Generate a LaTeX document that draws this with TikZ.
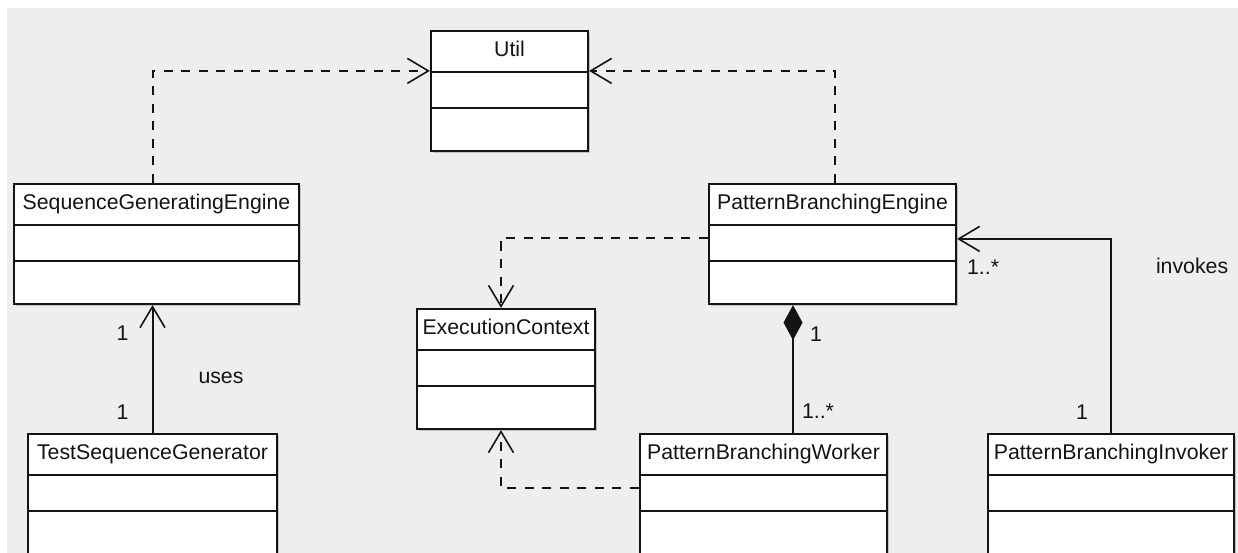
\documentclass[tikz,border=0pt]{standalone}
\usepackage{fontspec}
\setmainfont{Liberation Sans}
\usetikzlibrary{arrows.meta,shadows}

\definecolor{canvas}{RGB}{238,238,238}
\definecolor{ink}{RGB}{20,20,20}
\newcommand\umlfont{\fontsize{21.3}{25}\selectfont}

\tikzset{
  classbox/.style={draw=ink, line width=2.2pt, fill=white, inner sep=0pt,
    drop shadow={shadow xshift=2pt, shadow yshift=-2pt, fill=black, opacity=.18}},
  classname/.style={font=\umlfont, text=ink, anchor=base, inner sep=0pt},
  mult/.style={font=\umlfont, text=ink, inner sep=0pt},
  dep/.style={draw=ink, line width=2pt, dash pattern=on 9pt off 8.5pt,
    -{Straight Barb[length=21pt,width=25pt,line width=1.6pt]}},
  assoc/.style={draw=ink, line width=2pt,
    -{Straight Barb[length=21pt,width=25pt,line width=1.6pt]}},
  compose/.style={draw=ink, line width=2pt, {Diamond[length=35pt,width=19pt]}-},
}

\begin{document}
\begin{tikzpicture}[x=1pt, y=-1pt]
	\useasboundingbox[fill=white] (0,0) rectangle (1238,553);
	\clip (0,0) rectangle (1238,553);
	\fill[canvas] (7,8) rectangle (1238,553);

	% name / centre x / centre y / width / height / title
	\foreach \nm/\cx/\cy/\w/\h/\ttl in {
		util/509.5/91/157/120/Util,
		sge/156.5/244/285/120/SequenceGeneratingEngine,
		pbe/832.5/244/247/120/PatternBranchingEngine,
		ec/506/369/178/120/ExecutionContext,
		tsg/152.5/496/249/124/TestSequenceGenerator,
		pbw/763.5/496/247/124/PatternBranchingWorker,
		pbi/1111/496/246/124/PatternBranchingInvoker}{
		\node[classbox, minimum width=\w pt, minimum height=\h pt] (\nm) at (\cx,\cy) {};
		\node[classname] (\nm-t) at ([yshift=-27pt]\nm.north) {\ttl};
		\draw[ink, line width=2.2pt]
			([yshift=-42pt]\nm.north west) -- ([yshift=-42pt]\nm.north east)
			([yshift=-78pt]\nm.north west) -- ([yshift=-78pt]\nm.north east);
	}

	\draw[dep] ([xshift=-3.5pt]sge.north) |- ([yshift=-41pt]util.north west);
	\draw[dep] ([xshift=2.5pt]pbe.north) |- ([yshift=-41pt]util.north east);

	\draw[assoc] (tsg.north) -- (tsg.north |- sge.south)
		node[mult, pos=.16, left=23pt] (m1) {1}
		node[mult, pos=.78, left=23pt] (m2) {1}
		node[mult, pos=.43, right=45pt] (uses) {uses};

	\draw[compose] ([xshift=-39.5pt]pbe.south) -- ([xshift=-39.5pt]pbe.south |- pbw.north)
		node[mult, pos=.23, right=16pt] (m3) {1}
		node[mult, pos=.83, right=8pt] (m4) {1..*};

	\draw[assoc] (pbi.north) |- ([yshift=-56pt]pbe.north east)
		node[mult, pos=.054, left=22pt] (m5) {1}
		node[mult, pos=.5, anchor=west, xshift=44pt, yshift=-27pt] (inv) {invokes}
		node[mult, pos=1, anchor=west, xshift=9pt, yshift=-28pt] (m6) {1..*};

	\draw[dep] ([yshift=-55.5pt]pbe.north west) -| ([xshift=-5pt]ec.north);
	\draw[dep] ([yshift=-55pt]pbw.north west) -| ([xshift=-5pt]ec.south);
\end{tikzpicture}
\end{document}
